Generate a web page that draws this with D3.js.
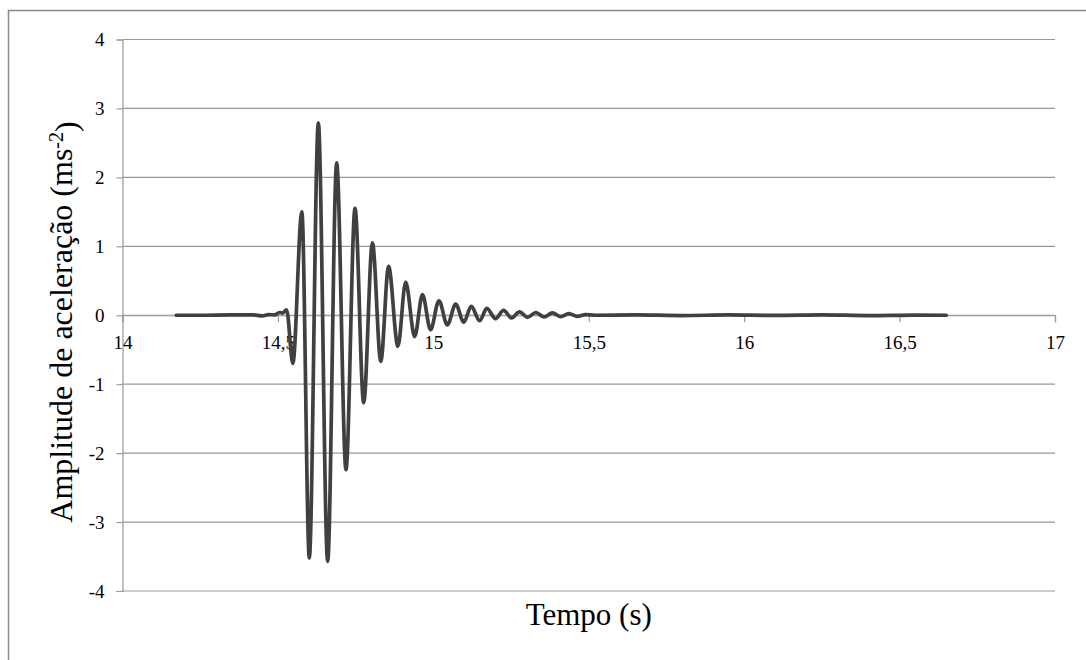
<!DOCTYPE html>
<html>
<head>
<meta charset="utf-8">
<script src="https://cdn.jsdelivr.net/npm/d3@7"></script>
<style>
  body { margin: 0; background: #fff; }
  #chart { width: 1086px; height: 660px; }
</style>
</head>
<body>
<div id="chart"></div>
<script>
// time (s) of each sample (peaks, troughs and the flat parts)
const tempo = [
  14.173, 14.25, 14.35, 14.42, 14.45, 14.47, 14.49, 14.505, 14.515, 14.528,
  14.548, 14.577, 14.601, 14.630, 14.660, 14.689, 14.719, 14.748, 14.776, 14.804,
  14.831, 14.856, 14.886, 14.911, 14.940, 14.965, 14.991, 15.018, 15.045, 15.072,
  15.098, 15.122, 15.149, 15.172, 15.200, 15.226, 15.252, 15.277, 15.303, 15.330,
  15.356, 15.383, 15.410, 15.436, 15.463, 15.49, 15.52, 15.65, 15.8, 15.95,
  16.1, 16.25, 16.4, 16.55, 16.65
];
// acceleration amplitude (ms-2)
const amplitude = [
  0, 0, 0.005, 0.005, -0.01, 0.01, 0.005, 0.04, 0.03, 0.08,
  -0.70, 1.50, -3.52, 2.79, -3.57, 2.21, -2.24, 1.55, -1.27, 1.05,
  -0.67, 0.71, -0.45, 0.48, -0.31, 0.30, -0.21, 0.21, -0.14, 0.16,
  -0.10, 0.13, -0.08, 0.10, -0.05, 0.07, -0.04, 0.05, -0.03, 0.04,
  -0.025, 0.035, -0.02, 0.025, -0.015, 0.01, 0, 0.005, -0.004, 0.004,
  -0.003, 0.005, -0.004, 0.003, 0
];

const xTicks = [14, 14.5, 15, 15.5, 16, 16.5, 17];
const yTicks = [-4, -3, -2, -1, 0, 1, 2, 3, 4];

const serif = '"Liberation Serif", "Times New Roman", serif';
const width = 1086, height = 660;
const plot = { left: 122.5, right: 1055, top: 39.5, bottom: 591 };

const svg = d3.select("#chart")
  .append("svg")
  .attr("width", width)
  .attr("height", height);

// outer frame of the chart area
svg.append("rect")
  .attr("x", 8.5)
  .attr("y", 10.5)
  .attr("width", 1100)
  .attr("height", 700)
  .attr("fill", "none")
  .attr("stroke", "#8a8a8a")
  .attr("stroke-width", 1.5);

const x = d3.scaleLinear().domain([14, 17]).range([plot.left, plot.right]);
const y = d3.scaleLinear().domain([-4, 4]).range([plot.bottom, plot.top]);

// horizontal gridlines
svg.append("g")
  .selectAll("line")
  .data(yTicks)
  .join("line")
  .attr("x1", plot.left)
  .attr("x2", plot.right)
  .attr("y1", d => y(d))
  .attr("y2", d => y(d))
  .attr("stroke", "#999")
  .attr("stroke-width", 1.2);

function styleAxis(g) {
  g.attr("font-family", serif).attr("font-size", 19);
  g.select(".domain").attr("stroke", "#999").attr("stroke-width", 1.2);
  g.selectAll(".tick line").attr("stroke", "#999").attr("stroke-width", 1.2);
  g.selectAll(".tick text")
    .style("font-family", serif)
    .style("font-size", "19px")
    .attr("fill", "#000");
}

// y axis
svg.append("g")
  .attr("transform", `translate(${plot.left},0)`)
  .call(d3.axisLeft(y).tickValues(yTicks).tickSize(6).tickPadding(12)
    .tickFormat(d => String(d)))
  .call(styleAxis);

// x axis sits on the zero line
svg.append("g")
  .attr("transform", `translate(0,${y(0)})`)
  .call(d3.axisBottom(x).tickValues(xTicks).tickSize(7).tickPadding(13)
    .tickFormat(d => String(d).replace(".", ",")))
  .call(styleAxis);

// axis titles
svg.append("text")
  .attr("x", (plot.left + plot.right) / 2)
  .attr("y", 625)
  .attr("text-anchor", "middle")
  .style("font-family", serif)
  .style("font-size", "31px")
  .text("Tempo (s)");

const yTitle = svg.append("text")
  .attr("transform", "translate(72,322) rotate(-90)")
  .attr("text-anchor", "middle")
  .style("font-family", serif)
  .style("font-size", "32px");
yTitle.append("tspan").text("Amplitude de aceleração (ms");
yTitle.append("tspan").attr("dy", "-0.45em").style("font-size", "20px").text("-2");
yTitle.append("tspan").attr("dy", "0.45em").text(")");

// the signal
const points = tempo.map((t, i) => [t, amplitude[i]]);
const line = d3.line()
  .x(d => x(d[0]))
  .y(d => y(d[1]))
  .curve(d3.curveMonotoneX);

svg.append("path")
  .datum(points)
  .attr("d", line)
  .attr("fill", "none")
  .attr("stroke", "#404040")
  .attr("stroke-width", 3.7)
  .attr("stroke-linejoin", "round")
  .attr("stroke-linecap", "round");
</script>
</body>
</html>
